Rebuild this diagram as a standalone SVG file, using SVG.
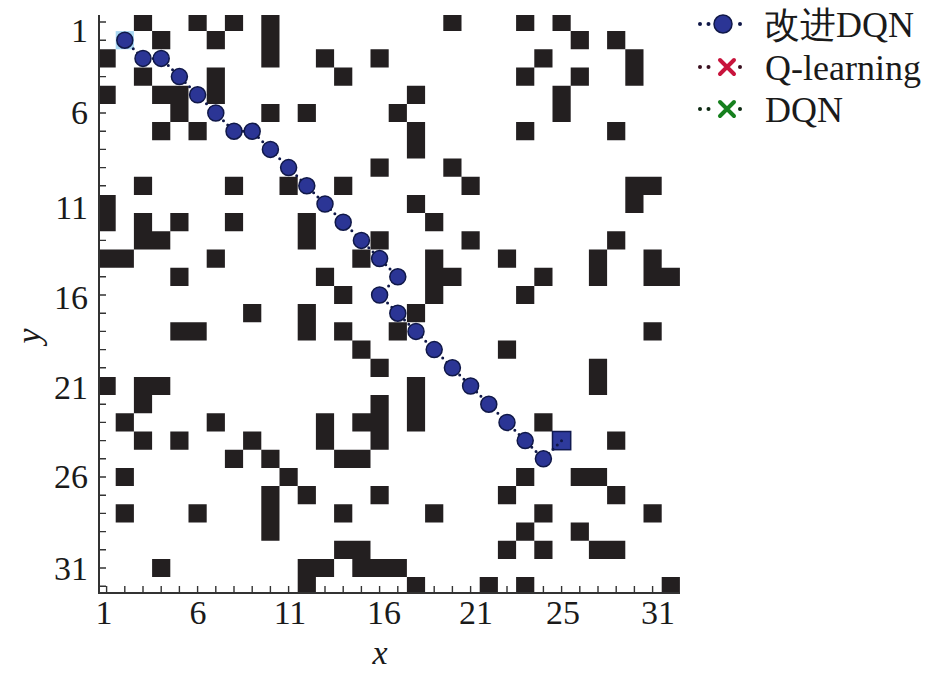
<svg xmlns="http://www.w3.org/2000/svg" width="926" height="673" viewBox="0 0 926 673">
<defs>
<style>
.lbl{font-family:"Liberation Serif","Times New Roman",serif;font-size:36px;fill:#1a1a1a}
.tl{font-family:"Liberation Serif","Times New Roman",serif;font-size:34px;fill:#1a1a1a}
.ax{stroke:#333;stroke-width:2;fill:none}
.tk{stroke:#333;stroke-width:1.4}
.mk{fill:#2b3595;stroke:#101848;stroke-width:1.5}
.dl{fill:#101848}
</style>
<clipPath id="plot"><rect x="99" y="15" width="581" height="578"/></clipPath>
</defs>
<rect width="926" height="673" fill="#fff"/>
<g id="ticks">
<path class="tk" d="M99 22.0h7M99 40.2h7M99 58.4h7M99 76.6h7M99 94.8h7M99 113h7M99 131.2h7M99 149.4h7M99 167.6h7M99 185.8h7M99 204h7M99 222.2h7M99 240.4h7M99 258.6h7M99 276.8h7M99 295h7M99 313.2h7M99 331.4h7M99 349.6h7M99 367.8h7M99 386h7M99 404.2h7M99 422.4h7M99 440.6h7M99 458.8h7M99 477h7M99 495.2h7M99 513.4h7M99 531.6h7M99 549.8h7M99 568h7M99 586.2h7"/>
<path class="tk" d="M106.6 593v-7M124.8 593v-7M143 593v-7M161.2 593v-7M179.4 593v-7M197.6 593v-7M215.8 593v-7M234 593v-7M252.2 593v-7M270.4 593v-7M288.6 593v-7M306.8 593v-7M325 593v-7M343.2 593v-7M361.4 593v-7M379.6 593v-7M397.8 593v-7M416 593v-7M434.2 593v-7M452.4 593v-7M470.6 593v-7M488.8 593v-7M507 593v-7M525.2 593v-7M543.4 593v-7M561.6 593v-7M579.8 593v-7M598 593v-7M616.2 593v-7M634.4 593v-7M652.6 593v-7M670.8 593v-7"/>
</g>
<g id="obstacles" clip-path="url(#plot)">
<path fill="#231f20" transform="translate(97.5,12.9) scale(18.2)" d="M2 0h1v1h-1zM5 0h1v1h-1zM7 0h1v1h-1zM9 0h1v1h-1zM19 0h1v1h-1zM23 0h1v1h-1zM25 0h1v1h-1z
M3 1h1v1h-1zM6 1h1v1h-1zM9 1h1v1h-1zM26 1h1v1h-1zM28 1h1v1h-1z
M0 2h1v1h-1zM9 2h1v1h-1zM12 2h1v1h-1zM15 2h1v1h-1zM24 2h1v1h-1zM29 2h1v1h-1z
M2 3h1v1h-1zM6 3h1v1h-1zM13 3h1v1h-1zM23 3h1v1h-1zM26 3h1v1h-1zM29 3h1v1h-1z
M0 4h1v1h-1zM3 4h1v1h-1zM4 4h1v1h-1zM6 4h1v1h-1zM17 4h1v1h-1zM25 4h1v1h-1z
M4 5h1v1h-1zM9 5h1v1h-1zM11 5h1v1h-1zM16 5h1v1h-1zM25 5h1v1h-1z
M3 6h1v1h-1zM5 6h1v1h-1zM17 6h1v1h-1zM23 6h1v1h-1zM28 6h1v1h-1z
M17 7h1v1h-1z
M15 8h1v1h-1zM19 8h1v1h-1z
M2 9h1v1h-1zM7 9h1v1h-1zM10 9h1v1h-1zM13 9h1v1h-1zM20 9h1v1h-1zM29 9h1v1h-1zM30 9h1v1h-1z
M0 10h1v1h-1zM17 10h1v1h-1zM29 10h1v1h-1z
M0 11h1v1h-1zM2 11h1v1h-1zM4 11h1v1h-1zM7 11h1v1h-1zM11 11h1v1h-1zM18 11h1v1h-1z
M2 12h1v1h-1zM3 12h1v1h-1zM11 12h1v1h-1zM15 12h1v1h-1zM20 12h1v1h-1zM28 12h1v1h-1z
M0 13h1v1h-1zM1 13h1v1h-1zM6 13h1v1h-1zM14 13h1v1h-1zM18 13h1v1h-1zM22 13h1v1h-1zM27 13h1v1h-1zM30 13h1v1h-1z
M4 14h1v1h-1zM12 14h1v1h-1zM18 14h1v1h-1zM19 14h1v1h-1zM24 14h1v1h-1zM27 14h1v1h-1zM30 14h1v1h-1zM31 14h1v1h-1z
M13 15h1v1h-1zM18 15h1v1h-1zM23 15h1v1h-1z
M8 16h1v1h-1zM11 16h1v1h-1zM17 16h1v1h-1z
M4 17h1v1h-1zM5 17h1v1h-1zM11 17h1v1h-1zM13 17h1v1h-1zM16 17h1v1h-1zM30 17h1v1h-1z
M14 18h1v1h-1zM22 18h1v1h-1z
M15 19h1v1h-1zM27 19h1v1h-1z
M0 20h1v1h-1zM2 20h1v1h-1zM3 20h1v1h-1zM17 20h1v1h-1zM27 20h1v1h-1z
M2 21h1v1h-1zM15 21h1v1h-1zM17 21h1v1h-1z
M1 22h1v1h-1zM6 22h1v1h-1zM12 22h1v1h-1zM14 22h1v1h-1zM15 22h1v1h-1zM17 22h1v1h-1zM24 22h1v1h-1z
M2 23h1v1h-1zM4 23h1v1h-1zM8 23h1v1h-1zM12 23h1v1h-1zM15 23h1v1h-1zM28 23h1v1h-1z
M7 24h1v1h-1zM9 24h1v1h-1zM13 24h1v1h-1zM14 24h1v1h-1z
M1 25h1v1h-1zM10 25h1v1h-1zM23 25h1v1h-1zM26 25h1v1h-1zM27 25h1v1h-1z
M9 26h1v1h-1zM11 26h1v1h-1zM15 26h1v1h-1zM22 26h1v1h-1zM28 26h1v1h-1z
M1 27h1v1h-1zM5 27h1v1h-1zM9 27h1v1h-1zM13 27h1v1h-1zM18 27h1v1h-1zM24 27h1v1h-1zM30 27h1v1h-1z
M9 28h1v1h-1zM23 28h1v1h-1zM26 28h1v1h-1z
M13 29h1v1h-1zM14 29h1v1h-1zM22 29h1v1h-1zM24 29h1v1h-1zM27 29h1v1h-1zM28 29h1v1h-1z
M3 30h1v1h-1zM11 30h1v1h-1zM12 30h1v1h-1zM14 30h1v1h-1zM15 30h1v1h-1zM16 30h1v1h-1z
M11 31h1v1h-1zM17 31h1v1h-1zM21 31h1v1h-1zM23 31h1v1h-1zM31 31h1v1h-1z"/>
</g>
<g id="axes">
<path class="ax" d="M99 15V593H680"/>
</g>
<g id="start"><rect x="115.7" y="31.1" width="18.2" height="18.2" fill="#a9d7f2"/></g>
<g id="goal"><rect x="552.5" y="431.5" width="18.2" height="18.2" fill="#2e3a9c" stroke="#111a50" stroke-width="1.5"/></g>
<g id="connectors">
<polyline fill="none" stroke="#101848" stroke-width="3" stroke-linecap="round" stroke-dasharray="0 6" points="124.8,40.2 143,58.4 161.2,58.4 179.4,76.6 197.6,94.8 215.8,113 234,131.2 252.2,131.2 270.4,149.4 288.6,167.6 306.8,185.8 325,204 343.2,222.2 361.4,240.4 379.6,258.6 397.8,276.8 379.6,295 397.8,313.2 416,331.4 434.2,349.6 452.4,367.8 470.6,386 488.8,404.2 507,422.4 525.2,440.6 543.4,458.8 561.6,440.6"/>
</g>
<g id="path-markers">
<circle class="mk" cx="124.8" cy="40.2" r="8"/>
<circle class="mk" cx="143" cy="58.4" r="8"/>
<circle class="mk" cx="161.2" cy="58.4" r="8"/>
<circle class="mk" cx="179.4" cy="76.6" r="8"/>
<circle class="mk" cx="197.6" cy="94.8" r="8"/>
<circle class="mk" cx="215.8" cy="113" r="8"/>
<circle class="mk" cx="234" cy="131.2" r="8"/>
<circle class="mk" cx="252.2" cy="131.2" r="8"/>
<circle class="mk" cx="270.4" cy="149.4" r="8"/>
<circle class="mk" cx="288.6" cy="167.6" r="8"/>
<circle class="mk" cx="306.8" cy="185.8" r="8"/>
<circle class="mk" cx="325" cy="204" r="8"/>
<circle class="mk" cx="343.2" cy="222.2" r="8"/>
<circle class="mk" cx="361.4" cy="240.4" r="8"/>
<circle class="mk" cx="379.6" cy="258.6" r="8"/>
<circle class="mk" cx="397.8" cy="276.8" r="8"/>
<circle class="mk" cx="379.6" cy="295" r="8"/>
<circle class="mk" cx="397.8" cy="313.2" r="8"/>
<circle class="mk" cx="416" cy="331.4" r="8"/>
<circle class="mk" cx="434.2" cy="349.6" r="8"/>
<circle class="mk" cx="452.4" cy="367.8" r="8"/>
<circle class="mk" cx="470.6" cy="386" r="8"/>
<circle class="mk" cx="488.8" cy="404.2" r="8"/>
<circle class="mk" cx="507" cy="422.4" r="8"/>
<circle class="mk" cx="525.2" cy="440.6" r="8"/>
<circle class="mk" cx="543.4" cy="458.8" r="8"/>
</g>
<g id="y-labels" class="tl" text-anchor="end">
<text x="88" y="42">1</text>
<text x="88" y="124">6</text>
<text x="88" y="219">11</text>
<text x="88" y="309">16</text>
<text x="88" y="399">21</text>
<text x="88" y="488">26</text>
<text x="88" y="580">31</text>
</g>
<g id="x-labels" class="tl" text-anchor="middle">
<text x="104" y="624">1</text>
<text x="198" y="624">6</text>
<text x="290" y="624">11</text>
<text x="384" y="624">16</text>
<text x="476" y="624">21</text>
<text x="563" y="624">25</text>
<text x="658" y="624">31</text>
</g>
<text class="tl" x="380" y="664" text-anchor="middle" font-style="italic">x</text>
<text class="tl" transform="translate(40,336) rotate(-90)" text-anchor="middle" font-style="italic">y</text>
<g id="legend">
<g id="legend-improved">
<circle class="dl" cx="700" cy="24" r="2"/><circle class="dl" cx="708.5" cy="24" r="2"/><circle class="dl" cx="740" cy="24" r="2"/>
<circle class="mk" cx="723" cy="24" r="9"/>
<text class="lbl" x="764" y="37" font-family="'Liberation Serif','Noto Sans CJK SC',serif">改进DQN</text>
</g>
<g id="legend-q">
<circle fill="#3a1020" cx="700" cy="67" r="2"/><circle fill="#3a1020" cx="708.5" cy="67" r="2"/><circle fill="#3a1020" cx="740" cy="67" r="2"/>
<path d="M720 60l14 14M734 60l-14 14" stroke="#c8143c" stroke-width="4" stroke-linecap="round"/>
<text class="lbl" x="765" y="80">Q-learning</text>
</g>
<g id="legend-dqn">
<circle fill="#0e2a12" cx="700" cy="109" r="2"/><circle fill="#0e2a12" cx="708.5" cy="109" r="2"/><circle fill="#0e2a12" cx="740" cy="109" r="2"/>
<path d="M720 102l14 14M734 102l-14 14" stroke="#16801e" stroke-width="4" stroke-linecap="round"/>
<text class="lbl" x="765" y="122">DQN</text>
</g>
</g>
</svg>
